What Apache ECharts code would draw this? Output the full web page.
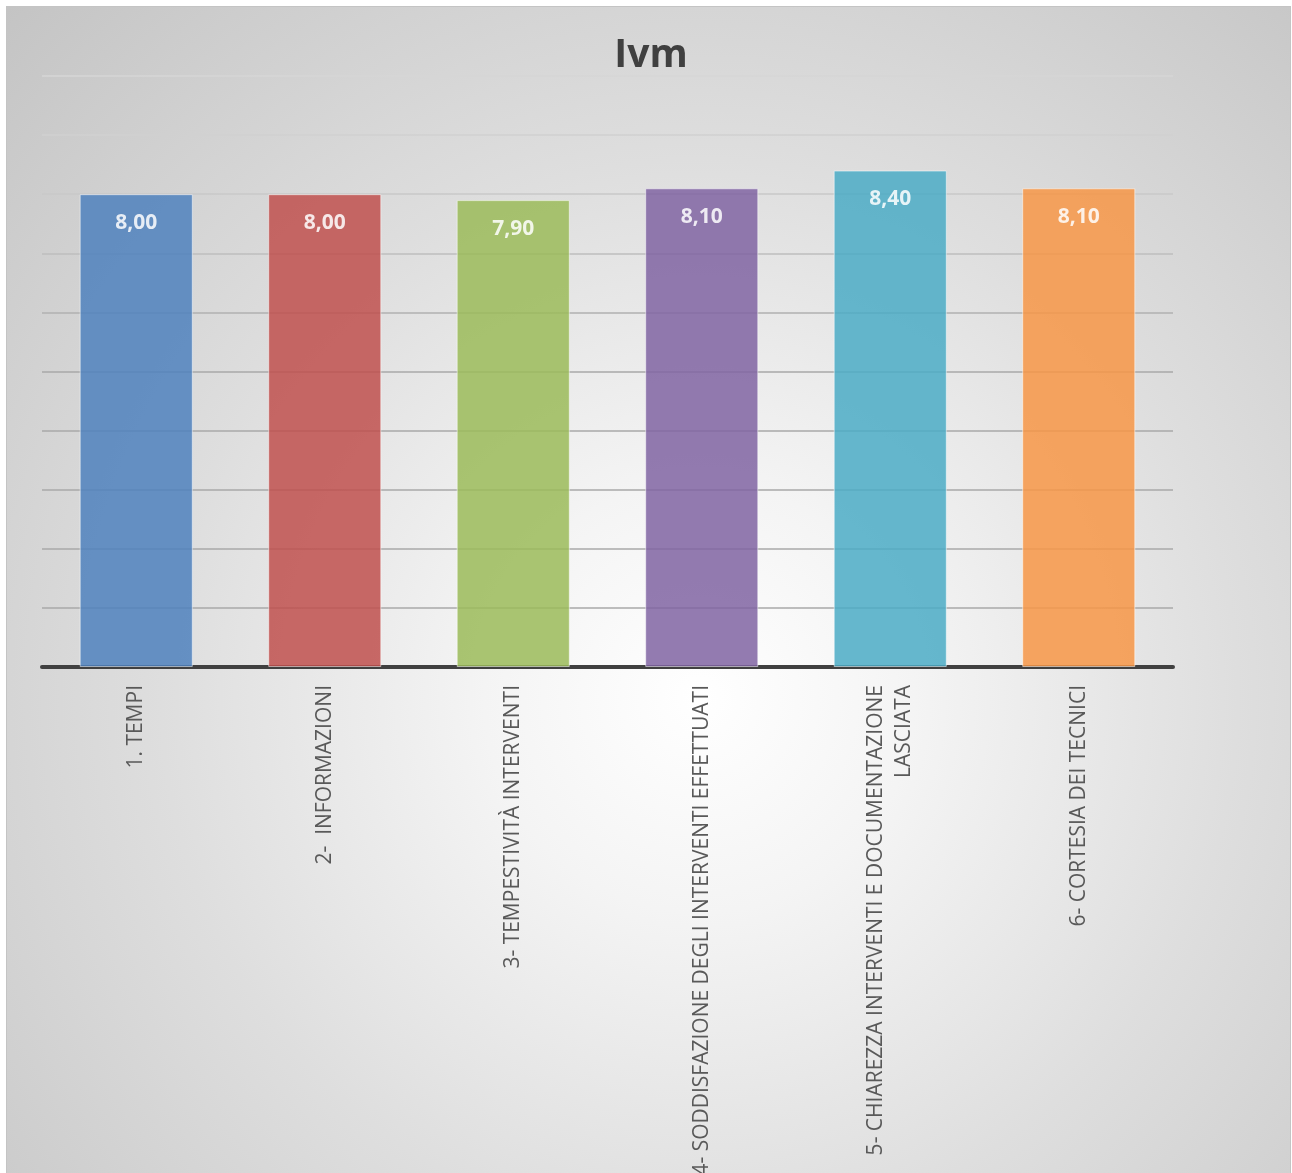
<!DOCTYPE html>
<html>
<head>
<meta charset="utf-8">
<script src="https://cdn.jsdelivr.net/npm/echarts@6/dist/echarts.min.js"></script>
<style>
  html, body { margin: 0; padding: 0; background: #ffffff; }
  #wrap { position: relative; width: 1292px; height: 1173px; overflow: hidden; }
  #frame {
    position: absolute; left: 6px; top: 6px; width: 1283px; height: 1190px;
    border: 1px solid #c4c4c4;
    background: radial-gradient(circle farthest-corner at 54% 58%, #ffffff 0%, #f4f4f4 22%, #dedede 55%, #c4c4c4 100%);
  }
  #chart { position: absolute; left: 0; top: 0; width: 1292px; height: 1173px; }
</style>
</head>
<body>
<div id="wrap">
  <div id="frame"></div>
  <div id="chart"></div>
</div>
<script>
  // dati
  const categories = [
    "1. TEMPI",
    "2-  INFORMAZIONI",
    "3- TEMPESTIVITÀ INTERVENTI",
    "4- SODDISFAZIONE DEGLI INTERVENTI EFFETTUATI",
    "5- CHIAREZZA INTERVENTI E DOCUMENTAZIONE\nLASCIATA",
    "6- CORTESIA DEI TECNICI"
  ];
  const values = [8.0, 8.0, 7.9, 8.1, 8.4, 8.1];
  const barColors = ["#4F81BD", "#C0504D", "#9BBB59", "#8064A2", "#4BACC6", "#F79646"];
  const yTicks = { min: 0, max: 10, interval: 1 };
  // le linee di griglia schiariscono verso l'alto (dal valore 0 al 10)
  const gridColors = ["#a8a8a8", "#a8a8a8", "#a8a8a8", "#a8a8a8", "#a8a8a8",
    "#a9a9a9", "#b0b0b0", "#bebebe", "#c8c8c8", "#d0d0d0", "#d6d6d6"];

  const chart = echarts.init(document.getElementById("chart"), null, { renderer: "canvas" });
  chart.setOption({
    backgroundColor: "transparent",
    animation: false,
    title: {
      text: "Ivm",
      left: 646,
      top: 31,
      textAlign: "center",
      textStyle: { fontFamily: "Open Sans", fontSize: 39, fontWeight: "bold", color: "#404040" }
    },
    grid: { left: 42, right: 119, top: 76, bottom: 506, containLabel: false, outerBoundsMode: "none" },
    xAxis: {
      type: "category",
      data: categories,
      axisTick: { show: false },
      axisLine: { lineStyle: { color: "#404040", width: 4 } },
      axisLabel: {
        rotate: 90,
        interval: 0,
        margin: 18,
        color: "#595959",
        fontFamily: "Open Sans",
        fontSize: 21,
        lineHeight: 28
      }
    },
    yAxis: {
      type: "value",
      min: yTicks.min,
      max: yTicks.max,
      interval: yTicks.interval,
      axisLabel: { show: false },
      axisLine: { show: false },
      axisTick: { show: false },
      splitLine: { lineStyle: { color: gridColors, width: 1.5 } }
    },
    series: [{
      type: "bar",
      barWidth: "60%",
      data: values.map((v, i) => ({
        value: v,
        itemStyle: {
          color: barColors[i],
          opacity: 0.85,
          borderColor: "rgba(255,255,255,0.6)",
          borderWidth: 1
        }
      })),
      label: {
        show: true,
        position: "insideTop",
        distance: 18,
        color: "#ffffff",
        fontFamily: "Open Sans",
        fontWeight: "bold",
        fontSize: 21,
        formatter: (p) => p.value.toFixed(2).replace(".", ",")
      }
    }]
  });
</script>
</body>
</html>
